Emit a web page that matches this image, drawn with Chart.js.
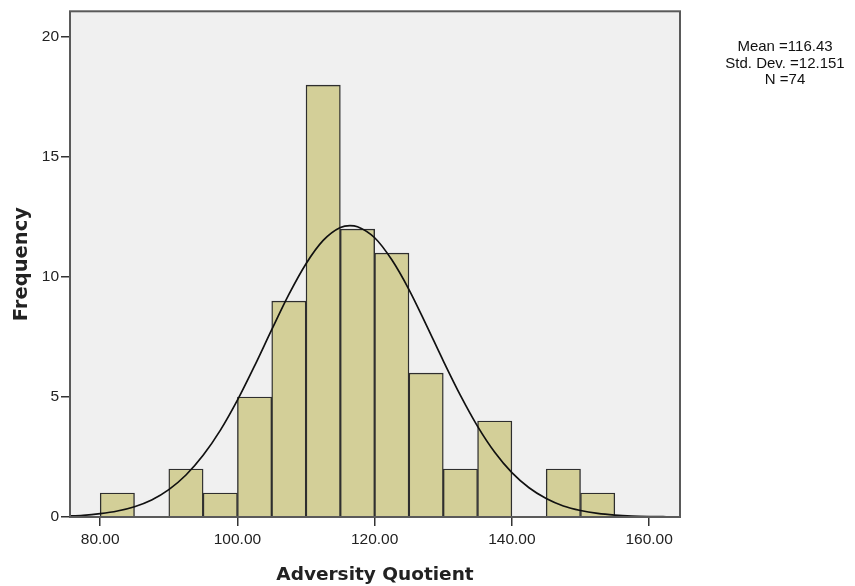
<!DOCTYPE html>
<html>
<head>
<meta charset="utf-8">
<script src="https://cdn.jsdelivr.net/npm/chart.js@4"></script>
<style>
  html, body { margin: 0; padding: 0; background: #fff; }
  #wrap { position: relative; width: 855px; height: 586px; }
</style>
</head>
<body>
<div id="wrap"><canvas id="histChart" width="855" height="586"></canvas></div>
<script>
// bin centres (width 5) and counts
var binCenters = [82.5, 87.5, 92.5, 97.5, 102.5, 107.5, 112.5, 117.5, 122.5, 127.5, 132.5, 137.5, 142.5, 147.5, 152.5];
var binCounts  = [1, 0, 2, 1, 5, 9, 18, 12, 11, 6, 2, 4, 0, 2, 1];

// normal curve
var curveX = [75, 77.5, 80, 82.5, 85, 87.5, 90, 92.5, 95, 97.5, 100, 102.5, 105, 107.5, 110, 112.5, 115, 116.4, 117.5, 120, 122.5, 125, 127.5, 130, 132.5, 135, 137.5, 140, 142.5, 145, 147.5, 150, 152.5, 155, 157.5, 160, 162.5, 164.5];
var curveY = [0.04, 0.07, 0.14, 0.25, 0.43, 0.71, 1.14, 1.75, 2.57, 3.61, 4.87, 6.3, 7.81, 9.28, 10.56, 11.53, 12.07, 12.15, 12.1, 11.64, 10.72, 9.48, 8.02, 6.51, 5.07, 3.78, 2.7, 1.85, 1.22, 0.77, 0.46, 0.27, 0.15, 0.08, 0.04, 0.02, 0.01, 0.005];

var xTicks = [80, 100, 120, 140, 160];
var yTicks = [0, 5, 10, 15, 20];
var statsLines = ["Mean =116.43", "Std. Dev. =12.151", "N =74"];

var bars = binCenters.map(function (c, i) { return { x: c, y: binCounts[i] }; });
var curve = curveX.map(function (x, i) { return { x: x, y: curveY[i] }; });

var frameColor = '#5a5a5a';

var plotDecor = {
  id: 'plotDecor',
  beforeDraw: function (chart) {
    var a = chart.chartArea, ctx = chart.ctx;
    ctx.save();
    ctx.fillStyle = '#f0f0f0';
    ctx.fillRect(a.left, a.top, a.right - a.left, a.bottom - a.top);
    ctx.restore();
  },
  afterDraw: function (chart) {
    var a = chart.chartArea, ctx = chart.ctx;
    ctx.save();
    ctx.strokeStyle = frameColor;
    ctx.lineWidth = 2;
    ctx.strokeRect(a.left, a.top, a.right - a.left, a.bottom - a.top);
    // stats box
    ctx.fillStyle = '#111';
    ctx.font = '15px "Liberation Sans", Arial, sans-serif';
    ctx.textAlign = 'center';
    ctx.textBaseline = 'middle';
    statsLines.forEach(function (t, i) { ctx.fillText(t, 785, 47 + i * 16.5); });
    ctx.restore();
  }
};

new Chart(document.getElementById('histChart').getContext('2d'), {
  data: {
    datasets: [
      {
        type: 'line',
        data: curve,
        borderColor: '#111',
        borderWidth: 1.7,
        pointRadius: 0,
        fill: false,
        tension: 0.4,
        cubicInterpolationMode: 'monotone',
        order: 0
      },
      {
        type: 'bar',
        data: bars,
        backgroundColor: '#d3cf98',
        borderColor: '#2e2e2e',
        borderWidth: 1.4,
        barPercentage: 1.0,
        categoryPercentage: 1.0,
        order: 1
      }
    ]
  },
  options: {
    responsive: false,
    animation: false,
    layout: { padding: { top: 11, right: 175, left: 0, bottom: 0 } },
    plugins: { legend: { display: false }, tooltip: { enabled: false } },
    scales: {
      x: {
        type: 'linear',
        offset: false,
        min: 75.6,
        max: 164.5,
        afterBuildTicks: function (s) { s.ticks = xTicks.map(function (v) { return { value: v }; }); },
        afterFit: function (s) { s.height = 69; },
        grid: { offset: false, drawOnChartArea: false, drawTicks: true, tickLength: 9, tickColor: '#333', lineWidth: 1.5 },
        border: { display: false },
        ticks: {
          color: '#222',
          font: { family: '"Liberation Sans", Arial, sans-serif', size: 15.5 },
          padding: 4,
          maxRotation: 0,
          callback: function (v) { return Number(v).toFixed(2); }
        },
        title: {
          display: true,
          text: 'Adversity Quotient',
          color: '#222',
          font: { family: '"DejaVu Sans", Verdana, sans-serif', size: 18.5, weight: 'bold' },
          padding: { top: 12, bottom: 0 }
        }
      },
      y: {
        type: 'linear',
        min: 0,
        max: 21.08,
        afterBuildTicks: function (s) { s.ticks = yTicks.map(function (v) { return { value: v }; }); },
        afterFit: function (s) { s.width = 70; },
        grid: { drawOnChartArea: false, drawTicks: true, tickLength: 9, tickColor: '#333', lineWidth: 1.5 },
        border: { display: false },
        ticks: {
          color: '#222',
          font: { family: '"Liberation Sans", Arial, sans-serif', size: 15.5 },
          padding: 2
        },
        title: {
          display: true,
          text: 'Frequency',
          color: '#222',
          font: { family: '"DejaVu Sans", Verdana, sans-serif', size: 19.5, weight: 'bold' },
          padding: { top: 10, bottom: 4 }
        }
      }
    }
  },
  plugins: [plotDecor]
});
</script>
</body>
</html>
